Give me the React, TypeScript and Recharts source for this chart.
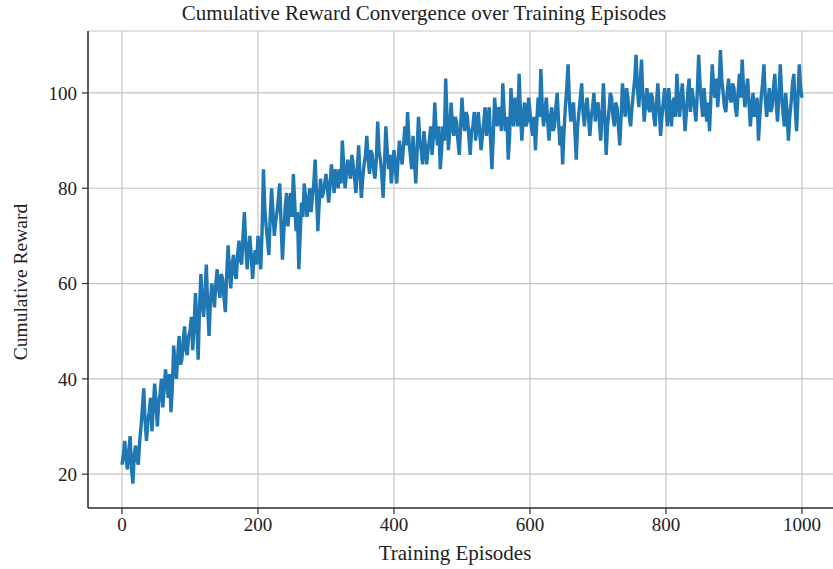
import { LineChart, Line, XAxis, YAxis, CartesianGrid } from "recharts";

// rewards, one every 2 episodes (0..1000), 50 per row
const rewards = [
  22, 24, 27, 23, 21, 25, 28, 21, 18, 24, 26, 23, 22, 27, 30, 34, 38, 31, 27, 31, 33, 36, 29, 34, 39,
  35, 30, 35, 37, 40, 34, 38, 42, 39, 36, 41, 33, 38, 47, 43, 40, 45, 49, 43, 44, 48, 51, 46, 45, 49,
  50, 53, 46, 51, 58, 52, 44, 55, 62, 56, 53, 58, 64, 55, 49, 56, 60, 58, 55, 60, 63, 59, 57, 62, 61,
  57, 54, 62, 68, 63, 59, 64, 66, 62, 61, 66, 69, 65, 64, 70, 75, 68, 63, 67, 70, 66, 61, 65, 67, 64,
  70, 67, 63, 71, 84, 76, 72, 69, 66, 74, 80, 75, 70, 73, 75, 78, 81, 72, 65, 71, 76, 79, 72, 76, 79,
  74, 83, 77, 71, 75, 63, 70, 77, 74, 81, 78, 74, 77, 80, 75, 78, 81, 86, 79, 71, 77, 82, 78, 79, 81,
  83, 80, 77, 81, 85, 82, 79, 84, 82, 80, 84, 81, 90, 85, 80, 83, 86, 84, 82, 87, 85, 82, 79, 84, 89,
  83, 78, 82, 85, 87, 91, 86, 83, 88, 87, 84, 82, 86, 94, 88, 86, 83, 78, 85, 93, 88, 84, 87, 81, 85,
  88, 84, 81, 86, 90, 87, 85, 89, 93, 89, 96, 90, 87, 84, 91, 86, 81, 88, 95, 90, 88, 85, 92, 89, 85,
  88, 90, 93, 87, 91, 98, 92, 89, 93, 84, 88, 93, 90, 103, 95, 88, 92, 98, 93, 91, 95, 94, 90, 87, 93,
  99, 94, 92, 96, 95, 91, 87, 92, 93, 96, 90, 93, 96, 92, 88, 91, 94, 97, 91, 94, 97, 90, 84, 91, 99,
  95, 93, 97, 96, 92, 102, 96, 92, 95, 86, 91, 101, 96, 93, 99, 97, 93, 104, 96, 90, 95, 98, 93, 94, 99,
  96, 93, 91, 95, 88, 94, 99, 95, 105, 97, 93, 96, 99, 94, 90, 95, 97, 92, 93, 97, 100, 94, 89, 93, 85,
  92, 97, 101, 106, 98, 94, 97, 98, 92, 86, 93, 96, 99, 102, 96, 93, 97, 99, 95, 91, 95, 97, 100, 94, 97,
  98, 94, 90, 96, 102, 95, 87, 93, 96, 100, 99, 95, 93, 98, 97, 93, 89, 95, 102, 98, 95, 101, 99, 95, 93,
  97, 100, 103, 108, 101, 97, 102, 107, 99, 94, 98, 101, 97, 96, 100, 99, 95, 93, 98, 102, 97, 91, 95, 98, 101,
  97, 93, 101, 97, 93, 98, 99, 95, 104, 99, 95, 99, 102, 97, 92, 96, 100, 103, 96, 101, 99, 97, 94, 100, 108,
  102, 98, 95, 101, 97, 94, 98, 92, 99, 106, 101, 99, 103, 97, 101, 109, 103, 100, 97, 96, 100, 103, 99, 98, 102,
  101, 97, 95, 100, 104, 99, 107, 101, 97, 100, 103, 98, 93, 97, 100, 95, 96, 99, 90, 95, 99, 102, 106, 99, 95,
  98, 101, 96, 97, 101, 104, 98, 94, 99, 106, 100, 96, 93, 100, 96, 90, 95, 98, 102, 104, 97, 92, 99, 106, 101,
  99,
];
const episodes = rewards.map((_, i) => i * 2);

const xTicks = [0, 200, 400, 600, 800, 1000];
const yTicks = [20, 40, 60, 80, 100];

const data = episodes.map((ep, i) => ({ episode: ep, reward: rewards[i] }));

const FONT = '"Liberation Serif", "Times New Roman", serif';
const AXIS = "#333333";
const tickStyle = { fontSize: 19, fill: "#222222", fontFamily: FONT };

export default function App() {
  return (
    <div style={{ position: "absolute", left: 0, top: 0, width: 833, height: 569, overflow: "hidden", background: "#fff", fontFamily: FONT, color: "#222" }}>
      <div style={{ position: "absolute", left: 0, width: 848, top: 1, textAlign: "center", fontSize: 21 }}>
        Cumulative Reward Convergence over Training Episodes
      </div>
      <div style={{ position: "absolute", left: 21, top: 282, transform: "translate(-50%, -50%) rotate(-90deg)", whiteSpace: "nowrap", fontSize: 19.5 }}>
        Cumulative Reward
      </div>
      <div style={{ position: "absolute", left: 0, width: 910, top: 541, textAlign: "center", fontSize: 21 }}>
        Training Episodes
      </div>
      <LineChart width={840} height={569} data={data} margin={{ top: 31, right: 4, bottom: 0, left: 0 }}>
        <CartesianGrid stroke="#c4c4c4" strokeWidth={1.2} />
        <XAxis dataKey="episode" type="number" domain={[-50, 1050]} ticks={xTicks} height={61}
          tick={tickStyle} tickSize={6} tickMargin={4}
          axisLine={{ stroke: AXIS, strokeWidth: 1.5 }} tickLine={{ stroke: AXIS, strokeWidth: 1.2 }} />
        <XAxis xAxisId="top" orientation="top" dataKey="episode" type="number" domain={[-50, 1050]}
          height={0} tick={false} tickLine={false} axisLine={{ stroke: AXIS, strokeWidth: 1.5 }} />
        <YAxis type="number" domain={[12.9, 113]} ticks={yTicks} width={88} allowDataOverflow
          tick={tickStyle} tickSize={6} tickMargin={5}
          axisLine={{ stroke: AXIS, strokeWidth: 1.5 }} tickLine={{ stroke: AXIS, strokeWidth: 1.2 }} />
        <Line type="linear" dataKey="reward" stroke="#1f77b4" strokeWidth={3.4} dot={false}
          isAnimationActive={false} />
      </LineChart>
    </div>
  );
}
